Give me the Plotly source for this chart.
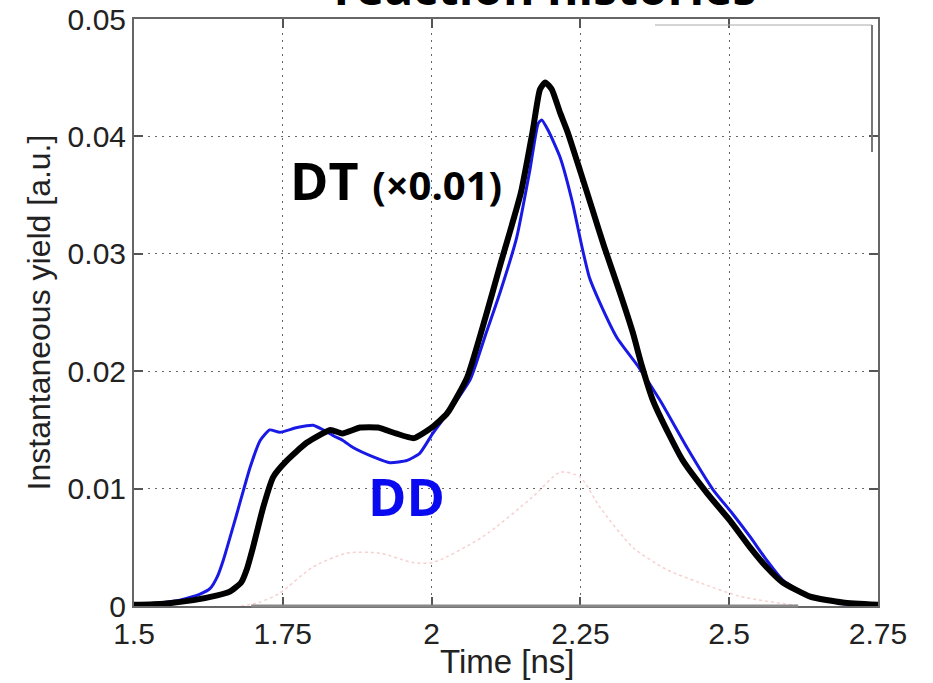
import plotly.graph_objects as go

# ---- data ----
dt_t = [1.50, 1.55, 1.60, 1.64, 1.66, 1.68, 1.69, 1.70, 1.717, 1.734, 1.757, 1.79, 1.83, 1.85,
        1.88, 1.91, 1.94, 1.97, 2.00, 2.026, 2.06, 2.09, 2.115, 2.15, 2.17, 2.182, 2.191, 2.202,
        2.216, 2.229, 2.25, 2.27, 2.29, 2.317, 2.338, 2.353, 2.372, 2.40, 2.422, 2.463, 2.501,
        2.535, 2.563, 2.590, 2.636, 2.691, 2.75]
dt_y = [0.0001, 0.0002, 0.0005, 0.0009, 0.0012, 0.0020, 0.0032, 0.0050, 0.0084, 0.0110, 0.0124,
        0.0139, 0.0150, 0.0147, 0.0152, 0.0152, 0.0147, 0.0143, 0.0152, 0.0164, 0.0195, 0.0245,
        0.0290, 0.0352, 0.0405, 0.0440, 0.0446, 0.0440, 0.0420, 0.0403, 0.0370, 0.0338, 0.0306,
        0.0266, 0.0233, 0.0205, 0.0175, 0.0145, 0.0124, 0.0096, 0.0073, 0.0050, 0.0033, 0.0020,
        0.0008, 0.0003, 0.0001]

dd_t = [1.50, 1.55, 1.577, 1.61, 1.628, 1.64, 1.65, 1.673, 1.695, 1.712, 1.728, 1.745, 1.774,
        1.801, 1.818, 1.835, 1.851, 1.868, 1.902, 1.930, 1.959, 1.980, 2.002, 2.031, 2.065, 2.09,
        2.115, 2.143, 2.165, 2.179, 2.185, 2.196, 2.216, 2.236, 2.253, 2.265, 2.283, 2.312, 2.347,
        2.384, 2.429, 2.473, 2.505, 2.535, 2.563, 2.590, 2.636, 2.69, 2.75]
dd_y = [0.0001, 0.0003, 0.0005, 0.0010, 0.0015, 0.0025, 0.0039, 0.0079, 0.0118, 0.0141, 0.0150,
        0.0148, 0.0152, 0.0154, 0.0150, 0.0145, 0.0141, 0.0135, 0.0127, 0.0122, 0.0124, 0.0130,
        0.0147, 0.0167, 0.0193, 0.0230, 0.0267, 0.0314, 0.0371, 0.0411, 0.0414, 0.0405, 0.0382,
        0.0345, 0.0305, 0.0280, 0.0258, 0.0228, 0.0204, 0.0175, 0.0135, 0.0099, 0.0079, 0.0059,
        0.0039, 0.0022, 0.0008, 0.0002, 0.0001]

faint_t = [1.68, 1.71, 1.745, 1.80, 1.857, 1.913, 1.969, 2.002, 2.086, 2.17, 2.216, 2.249, 2.283,
           2.338, 2.395, 2.45, 2.52, 2.62]
faint_y = [0.0, 0.0003, 0.0011, 0.0033, 0.0045, 0.0045, 0.0037, 0.0037, 0.0059, 0.0093, 0.0114,
           0.0110, 0.0084, 0.0050, 0.0031, 0.0020, 0.0008, 0.0]

x_ticks = [1.5, 1.75, 2, 2.25, 2.5, 2.75]
x_labels = ["1.5", "1.75", "2", "2.25", "2.5", "2.75"]
y_ticks = [0, 0.01, 0.02, 0.03, 0.04, 0.05]
y_labels = ["0", "0.01", "0.02", "0.03", "0.04", "0.05"]

fig = go.Figure()
fig.add_trace(go.Scatter(x=faint_t, y=faint_y, mode="lines",
                         line=dict(color="rgba(235,120,120,0.35)", width=1.5, dash="dot",
                                   shape="spline", smoothing=0.7),
                         hoverinfo="skip", showlegend=False))
fig.add_trace(go.Scatter(x=dd_t, y=dd_y, mode="lines", name="DD",
                         line=dict(color="rgb(25,25,230)", width=3, shape="spline", smoothing=0.5),
                         showlegend=False))
fig.add_trace(go.Scatter(x=dt_t, y=dt_y, mode="lines", name="DT",
                         line=dict(color="black", width=6, shape="spline", smoothing=0.5),
                         showlegend=False))

axis_font = dict(family="Liberation Sans, Arial, sans-serif", size=30, color="#222")
fig.update_xaxes(range=[1.5, 2.75], tickvals=x_ticks, ticktext=x_labels, automargin=False,
                 showline=True, linecolor="#666", linewidth=2, mirror="ticks",
                 ticks="inside", ticklen=9, tickwidth=1.5, tickcolor="#555",
                 showgrid=True, gridcolor="#666", gridwidth=1.3, griddash="2px,5px",
                 zeroline=False, tickfont=axis_font)
fig.update_yaxes(range=[0, 0.05], tickvals=y_ticks, ticktext=y_labels, automargin=False,
                 showline=True, linecolor="#666", linewidth=2, mirror="ticks",
                 ticks="inside", ticklen=9, tickwidth=1.5, tickcolor="#555",
                 showgrid=True, gridcolor="#666", gridwidth=1.3, griddash="2px,5px",
                 zeroline=False, tickfont=axis_font,
                 title=dict(text="Instantaneous yield [a.u.]",
                            font=dict(family=axis_font["family"], size=32, color="#222"),
                            standoff=7))

# x-axis title placed just under the tick labels
fig.add_annotation(text="Time [ns]", xref="paper", yref="paper", x=0.502, y=-(661 - 606) / 587,
                   xanchor="center", yanchor="middle", showarrow=False,
                   font=dict(family=axis_font["family"], size=33, color="#222"))

bold = "Open Sans, Noto Sans, sans-serif"
fig.add_annotation(text="reaction histories", xref="paper", yref="paper", x=0.552, y=0.9965,
                   xanchor="center", yanchor="bottom", showarrow=False,
                   font=dict(family=bold, size=48, color="black", weight="bold"))
fig.add_annotation(text="DT <span style='font-size:40px'>(×0.01)</span>", x=1.758, y=0.0331,
                   xanchor="left", yanchor="bottom", showarrow=False,
                   font=dict(family=bold, size=52, color="black", weight="bold"))
fig.add_annotation(text="DD", x=1.957, y=0.0062, xanchor="center", yanchor="bottom",
                   showarrow=False, font=dict(family=bold, size=52, color="rgb(10,10,240)", weight="bold"))

# artifacts of the pasted figure
fig.add_shape(type="line", xref="x", yref="paper", x0=1.697, x1=2.616, y0=0, y1=0,
              line=dict(color="#888", width=3))
fig.add_shape(type="line", xref="paper", yref="paper", x0=(655 - 134) / 744, x1=(872 - 134) / 744,
              y0=(606 - 25) / 587, y1=(606 - 25) / 587, line=dict(color="#aaa", width=1))
fig.add_shape(type="line", xref="paper", yref="paper", x0=(872 - 134) / 744, x1=(872 - 134) / 744,
              y0=(606 - 25) / 587, y1=(606 - 152) / 587, line=dict(color="#777", width=2))

fig.update_layout(width=933, height=683, margin=dict(l=134, r=55, t=19, b=77),
                  paper_bgcolor="white", plot_bgcolor="white")
fig.write_html("out.html", config={"displayModeBar": False},
               post_script="document.body.style.margin='0px';")
